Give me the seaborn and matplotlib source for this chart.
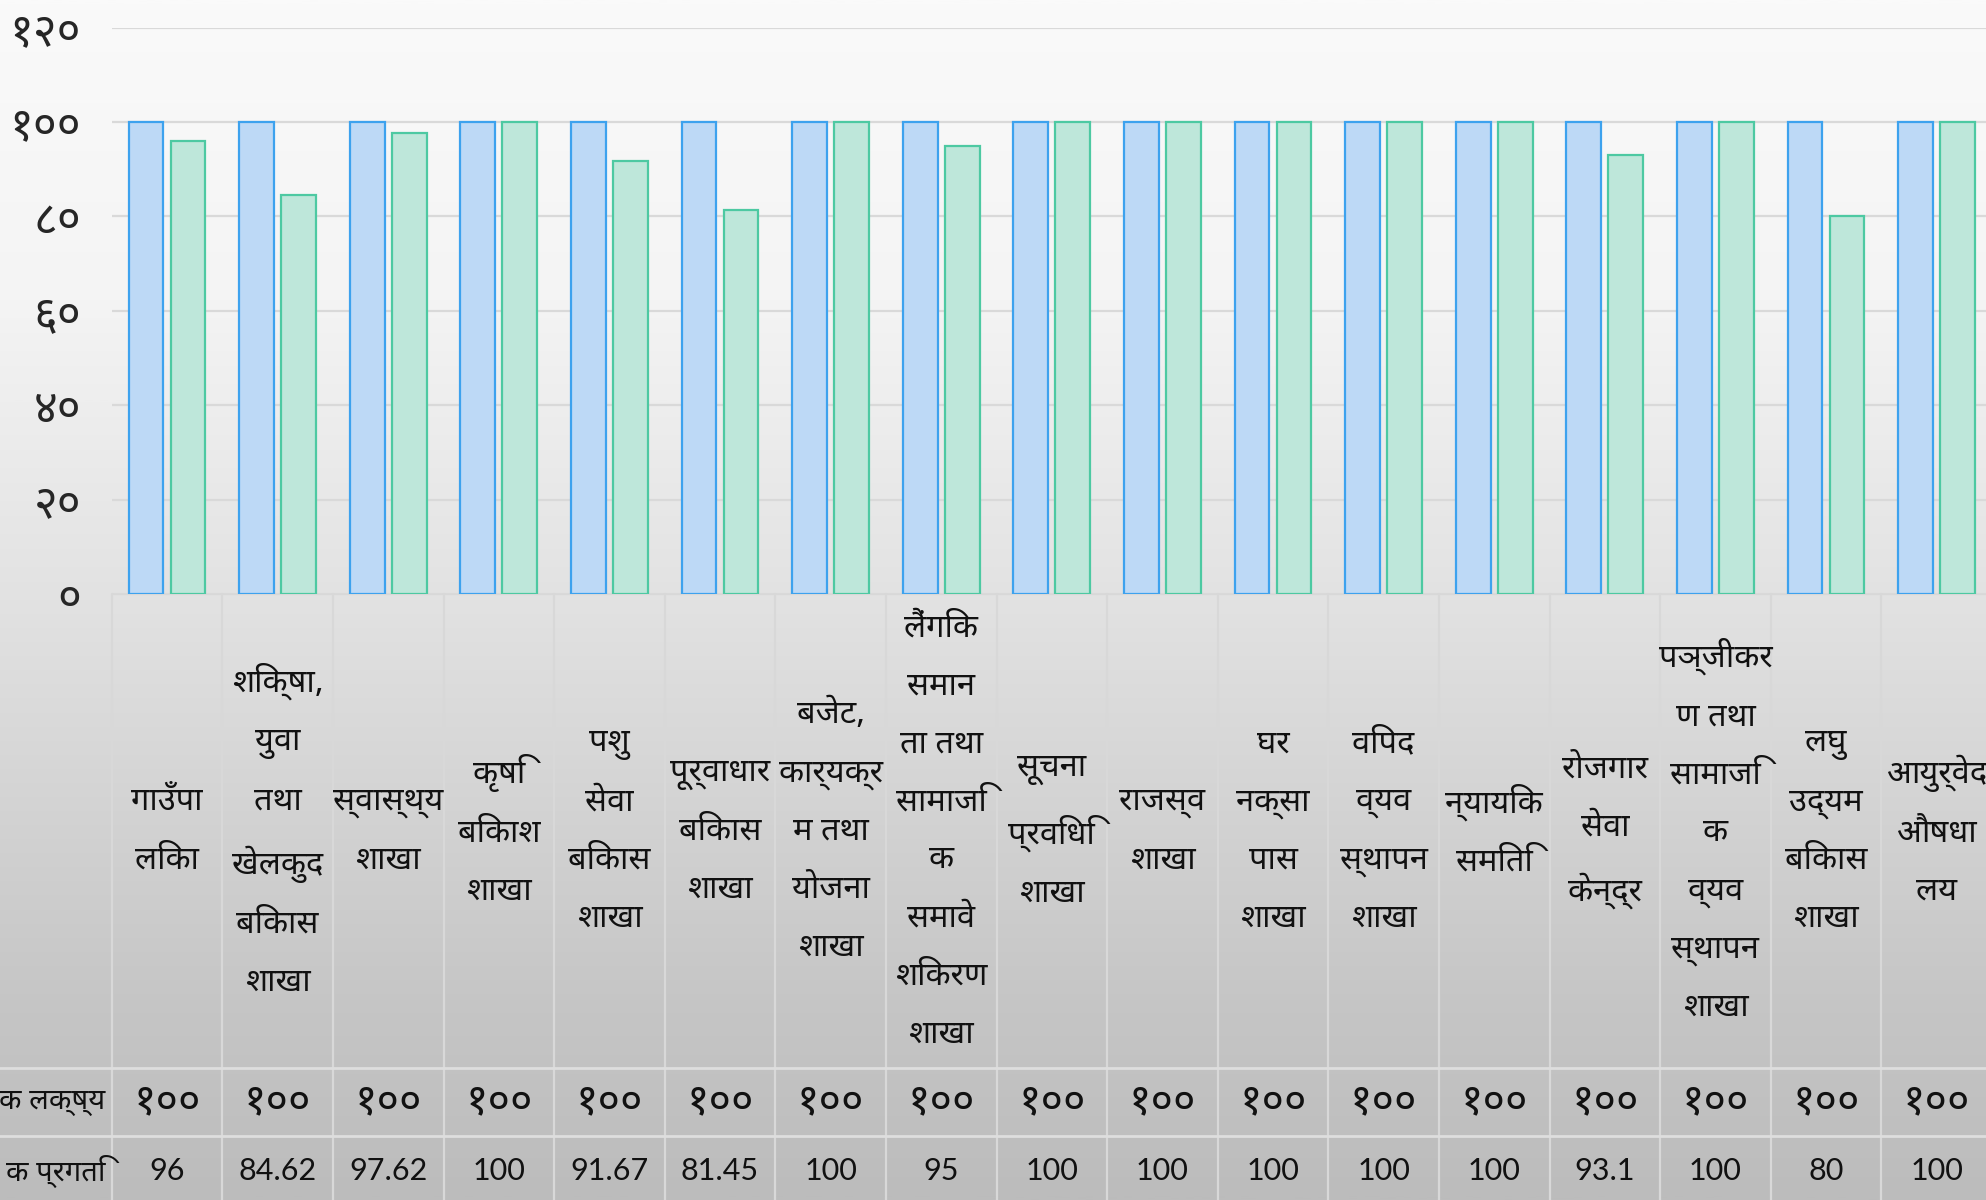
import numpy as np
import pandas as pd
import matplotlib
matplotlib.use("Agg")
import matplotlib.pyplot as plt
import seaborn as sns
from matplotlib import font_manager
from matplotlib.ft2font import FT2Font
from matplotlib.colors import LinearSegmentedColormap

# ---------------- data ----------------
categories = [
    "गाउँपा\nलिका",
    "शिक्षा,\nयुवा\nतथा\nखेलकुद\nबिकास\nशाखा",
    "स्वास्थ्य\nशाखा",
    "कृषि\nबिकाश\nशाखा",
    "पशु\nसेवा\nबिकास\nशाखा",
    "पूर्वाधार\nबिकास\nशाखा",
    "बजेट,\nकार्यक्र\nम तथा\nयोजना\nशाखा",
    "लैंगिक\nसमान\nता तथा\nसामाजि\nक\nसमावे\nशिकरण\nशाखा",
    "सूचना\nप्रविधि\nशाखा",
    "राजस्व\nशाखा",
    "घर\nनक्सा\nपास\nशाखा",
    "विपद\nव्यव\nस्थापन\nशाखा",
    "न्यायिक\nसमिति",
    "रोजगार\nसेवा\nकेन्द्र",
    "पञ्जीकर\nण तथा\nसामाजि\nक\nव्यव\nस्थापन\nशाखा",
    "लघु\nउद्यम\nबिकास\nशाखा",
    "आयुर्वेद\nऔषधा\nलय",
]
series_names = ["क लक्ष्य", "क प्रगति"]
target = [100] * 17
progress = [96, 84.62, 97.62, 100, 91.67, 81.45, 100, 95, 100, 100, 100, 100, 100,
            93.1, 100, 80, 100]
target_labels = ["१००"] * 17
progress_labels = ["96", "84.62", "97.62", "100", "91.67", "81.45", "100", "95", "100",
                   "100", "100", "100", "100", "93.1", "100", "80", "100"]
ytick_values = [0, 20, 40, 60, 80, 100, 120]
ytick_labels = ["०", "२०", "४०", "६०", "८०", "१००", "१२०"]

fill_colors = ["#BDD9F6", "#BEE7DA"]
edge_colors = ["#3DA2EE", "#4DC9A2"]

# ---------------- fonts ----------------
def find_devanagari_font():
    cands = []
    for fe in font_manager.fontManager.ttflist:
        try:
            cm = FT2Font(fe.fname).get_charmap()
        except Exception:
            continue
        if 0x0915 in cm and 0x0966 in cm:
            cands.append(fe.name)
    if not cands:
        return None
    for pref in ["Noto Sans Devanagari", "Mukta", "Lohit Devanagari", "FreeSans"]:
        if pref in cands:
            return pref
    return cands[0]

deva = find_devanagari_font()
sns.set_theme(style="white")
fam = ([deva] if deva else []) + ["Lato", "DejaVu Sans"]
latin_fam = ["Lato", "DejaVu Sans"]
plt.rcParams["font.family"] = fam

# ---------------- figure ----------------
W, H = 1986, 1200
fig = plt.figure(figsize=(W / 100, H / 100), dpi=100)

bg = fig.add_axes([0, 0, 1, 1], zorder=-10)
cmap = LinearSegmentedColormap.from_list(
    "bg", [(0, "#fafafa"), (0.25, "#f4f4f4"), (0.5, "#e2e2e2"), (0.83, "#c6c6c6"),
           (1.0, "#bcbcbc")])
bg.imshow(np.linspace(0, 1, 512)[:, None], aspect="auto", cmap=cmap,
          extent=[0, W, H, 0], origin="upper")
bg.set_xlim(0, W)
bg.set_ylim(H, 0)
bg.axis("off")

x_left = 111.7
col_w = 110.6
y_zero = 594
y_top = 27.6
row1 = 1068
row2 = 1136

ax = fig.add_axes([x_left / W, (H - y_zero) / H, 17 * col_w / W, (y_zero - y_top) / H])
ax.patch.set_alpha(0)

df = pd.DataFrame({
    "cat": categories * 2,
    "val": target + progress,
    "series": [series_names[0]] * 17 + [series_names[1]] * 17,
})
sns.barplot(data=df, x="cat", y="val", hue="series", order=categories,
            hue_order=series_names, palette=fill_colors, width=0.76, gap=0.17,
            saturation=1, linewidth=1.6, legend=False, ax=ax, zorder=3)
for cont, ec in zip(ax.containers, edge_colors):
    for p in cont:
        p.set_edgecolor(ec)
        p.set_zorder(3)

ax.set_xlim(-0.5, 16.5)
ax.set_ylim(0, 120)
ax.set_yticks(ytick_values)
ax.set_yticklabels(ytick_labels, fontsize=33, family=fam)
ax.tick_params(axis="y", length=0, pad=22)
ax.set_xticks([])
ax.set_xlabel("")
ax.set_ylabel("")
ax.yaxis.grid(True, color="#d9d9d9", linewidth=1.6)
ax.set_axisbelow(True)
for s in ax.spines.values():
    s.set_visible(False)

# ---------------- data table ----------------
tab = fig.add_axes([x_left / W, 0, 17 * col_w / W, (H - y_zero) / H])
tab.patch.set_alpha(0)
tab.set_xlim(-0.5, 16.5)
tab.set_ylim(0, H - y_zero)
tab.axis("off")

line_c = "#d8d8d8"
def ty(t):
    return H - t

for k in range(18):
    tab.plot([k - 0.5, k - 0.5], [ty(y_zero), ty(H)], color=line_c, lw=1.6, clip_on=False)
tab.plot([-0.5, 16.5], [ty(y_zero), ty(y_zero)], color=line_c, lw=1.6)
for r in (row1, row2):
    tab.plot([-2, 16.5], [ty(r), ty(r)], color="#dedede", lw=2.0, clip_on=False)

for i, c in enumerate(categories):
    tab.text(i, ty((y_zero + row1) / 2), c, ha="center", va="center",
             multialignment="center", fontsize=23.5, linespacing=2.0, family=fam,
             color="#111111")
    tab.text(i, ty((row1 + row2) / 2), target_labels[i], ha="center", va="center",
             fontsize=31, family=fam, color="#111111")
    tab.text(i, ty((row2 + H) / 2 + 3), progress_labels[i], ha="center", va="center",
             fontsize=22, family=latin_fam, color="#111111")

tab.text(-0.5 - 6 / col_w, ty((row1 + row2) / 2), series_names[0], ha="right",
         va="center", fontsize=21, family=fam, color="#111111", clip_on=False)
tab.text(-0.5 - 6 / col_w, ty((row2 + H) / 2 + 3), series_names[1], ha="right",
         va="center", fontsize=21, family=fam, color="#111111", clip_on=False)

fig.savefig("out.png", dpi=100)
